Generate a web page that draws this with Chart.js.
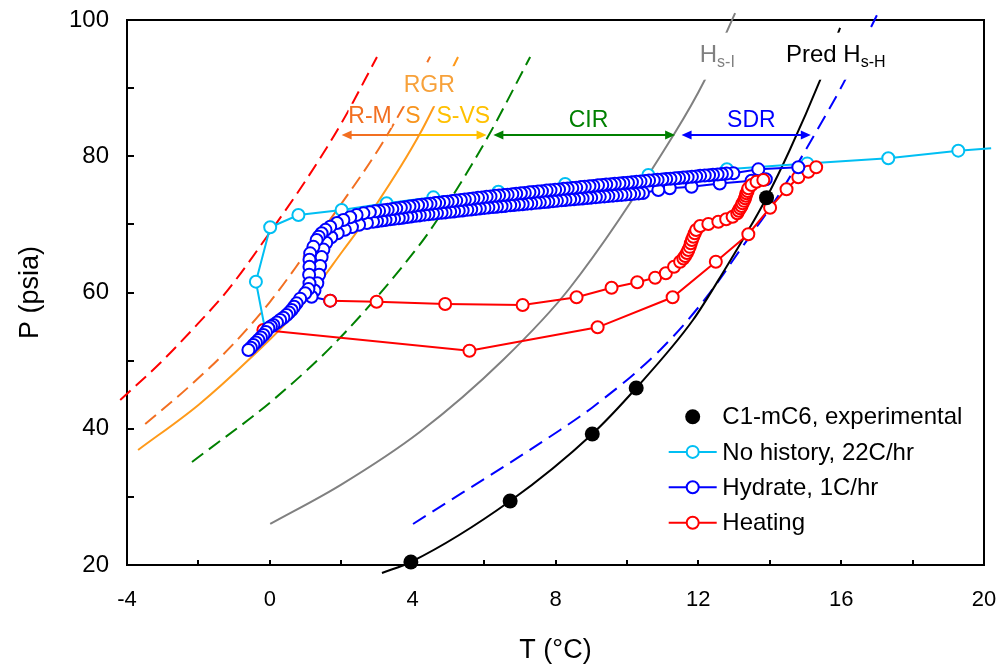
<!DOCTYPE html>
<html>
<head>
<meta charset="utf-8">
<title>Hydrate P–T paths, C1-mC6</title>
<script src="https://cdn.jsdelivr.net/npm/chart.js@4.4.1/dist/chart.umd.min.js"></script>
<style>
  html, body { margin: 0; padding: 0; background: #fff; }
  #wrap { width: 1003px; height: 668px; }
</style>
</head>
<body>
<div id="wrap"><canvas id="c" width="1003" height="668"></canvas></div>
<script>
const FONT = "'Liberation Sans', Arial, Helvetica, sans-serif";

// ---- axis ranges and tick steps ----
const tRange = [-4, 20];
const pRange = [20, 100];
const tStep = 2, tLabelStep = 4;
const pStep = 10, pLabelStep = 20;

// ---- C1-mC6 measured equilibrium points [T °C, P psia] ----
const experimental = [[3.95, 20.44], [6.73, 29.39], [9.03, 39.23], [10.26, 45.98], [13.91, 73.92]];

// ---- No history, 22C/hr ----
const noHistory = [
  [-0.13, 54.50], [-0.39, 61.59], [0.01, 69.57], [0.80, 71.38], [2.01, 72.11], [3.27, 73.09],
  [4.58, 73.97], [6.40, 74.80], [8.27, 75.93], [10.60, 77.25], [12.80, 78.10], [15.05, 78.95],
  [17.32, 79.70], [19.28, 80.82], [20.20, 81.17]
];

// ---- Hydrate, 1C/hr : upper trace, then the drop down to -0.6 °C ----
const hydrateUpper = [
  [14.80, 78.38], [13.68, 78.08], [12.98, 77.50],
  [12.79, 77.45], [12.66, 77.40], [12.54, 77.33], [12.41, 77.29], [12.30, 77.21], [12.18, 77.17],
  [12.05, 77.12], [11.94, 77.04], [11.82, 77.00], [11.70, 76.93], [11.58, 76.89], [11.46, 76.81],
  [11.35, 76.78], [11.22, 76.70], [11.10, 76.66], [10.99, 76.59], [10.86, 76.55], [10.75, 76.47],
  [10.62, 76.43], [10.51, 76.35], [10.38, 76.31], [10.27, 76.24], [10.14, 76.20], [10.03, 76.12],
  [9.90, 76.08], [9.79, 76.00], [9.66, 75.96], [9.55, 75.89], [9.42, 75.85], [9.31, 75.77],
  [9.19, 75.73], [9.06, 75.64], [8.95, 75.60], [8.82, 75.52], [8.71, 75.47], [8.58, 75.39],
  [8.47, 75.34], [8.34, 75.26], [8.23, 75.22], [8.10, 75.13], [7.99, 75.09], [7.86, 75.00],
  [7.75, 74.96], [7.62, 74.88], [7.51, 74.83], [7.38, 74.75], [7.27, 74.70], [7.14, 74.62],
  [7.03, 74.57], [6.90, 74.49], [6.79, 74.44], [6.66, 74.36], [6.55, 74.31], [6.42, 74.23],
  [6.31, 74.19], [6.18, 74.10], [6.07, 74.05], [5.94, 73.95], [5.83, 73.89], [5.70, 73.80],
  [5.59, 73.74], [5.46, 73.64], [5.35, 73.58], [5.22, 73.49], [5.11, 73.43], [4.98, 73.33],
  [4.87, 73.28], [4.74, 73.18], [4.63, 73.12], [4.50, 73.02], [4.39, 72.97], [4.26, 72.87],
  [4.15, 72.80], [4.02, 72.69], [3.91, 72.62], [3.78, 72.51], [3.67, 72.44], [3.54, 72.33],
  [3.43, 72.26], [3.30, 72.15], [3.19, 72.09], [3.06, 71.98], [2.95, 71.91],
  [2.80, 71.78], [2.62, 71.62], [2.43, 71.38], [2.25, 71.05], [2.06, 70.64], [1.88, 70.20],
  [1.69, 69.66], [1.56, 69.20], [1.45, 68.69], [1.37, 68.20], [1.31, 67.71], [1.22, 66.70],
  [1.13, 65.75], [1.11, 64.80], [1.11, 63.79], [1.10, 62.60], [1.11, 61.35], [1.08, 60.50],
  [0.99, 59.88], [0.85, 59.10], [0.75, 58.41], [0.68, 57.90], [0.61, 57.43], [0.54, 57.05],
  [0.47, 56.70], [0.38, 56.30], [0.29, 55.96], [0.20, 55.60], [0.10, 55.23], [0.03, 55.00],
  [-0.04, 54.75], [-0.11, 54.20], [-0.18, 53.76], [-0.25, 53.40], [-0.32, 53.03], [-0.39, 52.65],
  [-0.46, 52.29], [-0.53, 51.90], [-0.60, 51.56]
];

// ---- Hydrate, 1C/hr : lower trace ending where heating starts ----
const hydrateLower = [
  [13.89, 76.62], [13.49, 76.41], [12.60, 76.00], [11.81, 75.53], [11.20, 75.30], [10.88, 75.05],
  [10.45, 74.60], [10.33, 74.55], [10.20, 74.48], [10.09, 74.44], [9.96, 74.37], [9.85, 74.33],
  [9.72, 74.26], [9.61, 74.22], [9.48, 74.15], [9.37, 74.11], [9.24, 74.04], [9.13, 74.00],
  [9.00, 73.92], [8.89, 73.88], [8.76, 73.80], [8.65, 73.76], [8.52, 73.69], [8.41, 73.65],
  [8.28, 73.57], [8.17, 73.53], [8.04, 73.45], [7.93, 73.41], [7.80, 73.33], [7.69, 73.29],
  [7.56, 73.20], [7.45, 73.16], [7.32, 73.08], [7.21, 73.04], [7.08, 72.96], [6.97, 72.92],
  [6.84, 72.84], [6.73, 72.80], [6.60, 72.71], [6.49, 72.67], [6.36, 72.59], [6.25, 72.55],
  [6.12, 72.47], [6.01, 72.42], [5.88, 72.32], [5.77, 72.27], [5.64, 72.18], [5.53, 72.13],
  [5.40, 72.04], [5.29, 71.99], [5.16, 71.90], [5.05, 71.85], [4.92, 71.76], [4.81, 71.71],
  [4.68, 71.62], [4.57, 71.57], [4.44, 71.48], [4.33, 71.43], [4.20, 71.32], [4.09, 71.26],
  [3.96, 71.15], [3.85, 71.08], [3.72, 70.98], [3.61, 70.91], [3.48, 70.81], [3.37, 70.74],
  [3.24, 70.63], [3.13, 70.57], [3.00, 70.46], [2.89, 70.39],
  [2.72, 70.20], [2.50, 69.95], [2.30, 69.60], [2.10, 69.20], [1.90, 68.70], [1.72, 68.10],
  [1.58, 67.30], [1.50, 66.30], [1.45, 65.20], [1.41, 63.89], [1.38, 62.60], [1.33, 61.35],
  [1.25, 60.30], [1.17, 59.38], [1.69, 58.80]
];

// ---- Heating runs ----
const heatingFromHydrate = [
  [1.69, 58.80], [2.99, 58.65], [4.91, 58.31], [7.08, 58.17], [8.59, 59.30], [9.57, 60.70],
  [10.29, 61.50], [10.79, 62.17], [11.09, 62.82], [11.32, 63.79], [11.49, 64.52], [11.58, 65.00],
  [11.63, 65.36], [11.68, 65.80], [11.72, 66.24], [11.76, 66.70], [11.79, 67.22], [11.82, 67.70],
  [11.86, 68.19], [11.90, 68.70], [11.94, 69.17], [12.05, 69.76], [12.28, 70.06], [12.56, 70.39],
  [12.78, 70.75], [12.96, 71.13], [13.09, 71.63], [13.13, 72.00], [13.17, 72.36], [13.21, 72.70],
  [13.24, 73.09], [13.28, 73.45], [13.31, 73.83], [13.33, 74.20], [13.35, 74.56], [13.38, 74.90],
  [13.40, 75.29], [13.49, 75.78], [13.63, 76.26], [13.82, 76.51]
];
const heatingFromCold = [
  [-0.18, 54.50], [5.59, 51.46], [9.18, 54.89], [11.28, 59.30], [12.49, 64.52], [13.40, 68.55],
  [14.01, 72.45], [14.47, 75.15], [14.80, 76.91], [15.08, 77.73], [15.30, 78.38]
];

// ---- Region boundary curves ----
const rmBoundary   = [[-4.19, 44.22], [-3.07, 49.65], [-2.00, 55.50], [-1.20, 60.20], [0.00, 68.80],
                      [1.00, 76.40], [2.01, 84.90], [3.00, 94.57]];
const sBoundary    = [[-3.49, 40.70], [-2.30, 46.00], [-1.12, 51.90], [0.00, 58.60], [0.96, 65.40],
                      [2.00, 73.00], [3.04, 81.00], [3.80, 87.80], [4.49, 94.62]];
const vsBoundary   = [[-3.69, 36.88], [-2.00, 43.50], [-0.60, 50.09], [0.80, 57.50], [2.06, 66.24],
                      [2.99, 73.00], [4.21, 83.37], [5.27, 94.57]];
const cirBoundary  = [[-2.18, 35.12], [0.09, 44.22], [1.96, 53.32], [4.12, 66.50], [4.68, 70.60],
                      [6.08, 82.60], [7.29, 94.57]];
const hsiCurve     = [[0.01, 26.02], [2.00, 31.80], [4.20, 39.52], [6.53, 50.09], [8.40, 60.66],
                      [11.34, 83.41], [12.18, 91.19], [13.03, 101.0]];
const predHshCurve = [[3.14, 18.83], [3.95, 20.44], [6.73, 29.39], [9.03, 39.23], [10.26, 45.98], [11.85, 55.96],
                      [12.79, 63.79], [13.35, 68.69], [13.91, 73.92], [14.56, 80.92], [15.41, 91.19], [15.97, 98.83]];
const sdrBoundary  = [[4.01, 26.02], [8.13, 39.82], [9.06, 43.24], [10.93, 51.56], [12.24, 59.38], [13.17, 66.24],
                      [14.25, 74.30], [15.22, 82.87], [16.06, 90.70], [17.00, 100.7]];

// ---- Legend entries ----
const legendNames = ['C1-mC6, experimental', 'No history, 22C/hr', 'Hydrate, 1C/hr', 'Heating'];

const COL = {
  red: '#FF0000', cyan: '#00BFF3', blue: '#0000FF', black: '#000000',
  rm: '#F26F21', s: '#F7941D', vs: '#FFC000', rgr: '#F7A13A',
  green: '#008000', gray: '#808080'
};

const xy = pairs => pairs.map(([x, y]) => ({ x, y }));
const curveClip = { left: 10, top: 8, right: 10, bottom: 12 };

function curve(pairs, color, dash) {
  return {
    data: xy(pairs), showLine: true, borderColor: color, borderWidth: 2,
    borderDash: dash || [], pointRadius: 0, pointHoverRadius: 0,
    cubicInterpolationMode: 'monotone', clip: curveClip, order: 20
  };
}
function series(pairs, color, order, extra) {
  return Object.assign({
    data: xy(pairs), showLine: true, borderColor: color, borderWidth: 2,
    pointStyle: 'circle', pointRadius: 6, pointBorderWidth: 2,
    pointBorderColor: color, pointBackgroundColor: '#ffffff', order
  }, extra || {});
}

// higher order = drawn earlier (further back)
const datasets = [
  curve(rmBoundary, COL.red, [14, 7]),
  curve(sBoundary, COL.rm, [14, 7]),
  curve(vsBoundary, '#FF9A1A'),
  curve(cirBoundary, COL.green, [14, 7]),
  curve(hsiCurve, COL.gray),
  curve(predHshCurve, COL.black),
  curve(sdrBoundary, COL.blue, [15, 8]),
  series(noHistory, COL.cyan, 6, {
    clip: { left: 0, top: 0, right: 8, bottom: 0 },
    pointRadius: noHistory.map((p, i) => i === noHistory.length - 1 ? 0 : 6)
  }),
  series(heatingFromCold, COL.red, 5),
  series(hydrateUpper, COL.blue, 4),
  series(hydrateLower, COL.blue, 4),
  series(heatingFromHydrate, COL.red, 3),
  {
    data: xy(experimental), showLine: false, pointStyle: 'circle', pointRadius: 7.5,
    pointBorderWidth: 0, pointBackgroundColor: '#000', pointBorderColor: '#000', order: 1, clip: false
  }
];

// ---- text labels placed in data coordinates ----
const regionLabels = [
  { text: 'RGR', t: 4.464, p: 90.58, color: COL.rgr, box: [29, 18, 29, 22] },
  { text: 'R-M', t: 2.806, p: 85.94, color: COL.rm, box: [21.5, 12, 21.5, 12] },
  { text: 'S', t: 4.010, p: 85.94, color: COL.s, box: [7.5, 12, 7.5, 12] },
  { text: 'S-VS', t: 5.419, p: 85.94, color: COL.vs, box: [27.5, 12, 27.5, 12] },
  { text: 'CIR', t: 8.925, p: 85.44, color: COL.green },
  { text: 'SDR', t: 13.484, p: 85.44, color: COL.blue }
];
const curveLabels = [
  { main: 'H', sub: 's-I', t: 12.04, p: 93.88, color: COL.gray, box: [3, 29, 40, 18] },
  { main: 'Pred H', sub: 's-H', t: 14.455, p: 93.88, color: COL.black, box: [3, 29, 102, 18] }
];
const arrowP = 83.12;
const arrows = [
  { from: 2.01, to: 6.07, segs: [[2.01, 3.30, COL.rm], [3.30, 4.20, COL.s], [4.20, 6.07, COL.vs]], headL: COL.rm, headR: COL.vs },
  { from: 6.26, to: 11.35, segs: [[6.26, 11.35, COL.green]], headL: COL.green, headR: COL.green },
  { from: 11.53, to: 15.15, segs: [[11.53, 15.15, COL.blue]], headL: COL.blue, headR: COL.blue }
];

function head(ctx, x, y, dir, color) {
  ctx.fillStyle = color;
  ctx.beginPath();
  ctx.moveTo(x, y);
  ctx.lineTo(x - dir * 10, y - 4.5);
  ctx.lineTo(x - dir * 10, y + 4.5);
  ctx.closePath();
  ctx.fill();
}

const frame = {
  id: 'frame',
  beforeDatasetsDraw(chart) {
    const { ctx, chartArea: a, scales: { x, y } } = chart;
    ctx.save();
    ctx.strokeStyle = '#000';
    ctx.lineWidth = 2;
    ctx.beginPath();
    x.ticks.forEach(tk => {
      const px = Math.round(x.getPixelForValue(tk.value));
      ctx.moveTo(px, a.bottom); ctx.lineTo(px, a.bottom - 5);
    });
    y.ticks.forEach(tk => {
      const py = Math.round(y.getPixelForValue(tk.value));
      ctx.moveTo(a.left, py); ctx.lineTo(a.left + 7, py);
    });
    ctx.stroke();
    ctx.strokeRect(a.left, a.top, a.right - a.left, a.bottom - a.top);
    ctx.restore();
  }
};

const annotations = {
  id: 'annotations',
  afterDatasetsDraw(chart) {
    const { ctx, scales: { x, y } } = chart;
    ctx.save();
    // region names
    ctx.font = `23px ${FONT}`;
    ctx.textAlign = 'center';
    ctx.textBaseline = 'middle';
    regionLabels.forEach(l => {
      const cx = x.getPixelForValue(l.t), cy = y.getPixelForValue(l.p);
      if (l.box) {
        ctx.fillStyle = '#fff';
        ctx.fillRect(cx - l.box[0], cy - l.box[1], l.box[0] + l.box[2], l.box[1] + l.box[3]);
      }
      ctx.fillStyle = l.color;
      ctx.fillText(l.text, cx, cy + 1);
    });
    // curve names with subscripts
    ctx.textAlign = 'left';
    ctx.textBaseline = 'alphabetic';
    curveLabels.forEach(l => {
      const lx = x.getPixelForValue(l.t), by = y.getPixelForValue(l.p);
      ctx.fillStyle = '#fff';
      ctx.fillRect(lx - l.box[0], by - l.box[1], l.box[0] + l.box[2], l.box[1] + l.box[3]);
      ctx.fillStyle = l.color;
      ctx.font = `24px ${FONT}`;
      ctx.fillText(l.main, lx, by);
      const w = ctx.measureText(l.main).width;
      ctx.font = `16px ${FONT}`;
      ctx.fillText(l.sub, lx + w, by + 5);
    });
    // range arrows
    const ay = Math.round(y.getPixelForValue(arrowP));
    ctx.lineWidth = 2.2;
    arrows.forEach(a => {
      const x1 = x.getPixelForValue(a.from), x2 = x.getPixelForValue(a.to);
      a.segs.forEach(([s, e, c]) => {
        let sx = x.getPixelForValue(s), ex = x.getPixelForValue(e);
        if (s === a.from) sx += 6;
        if (e === a.to) ex -= 6;
        ctx.strokeStyle = c;
        ctx.beginPath(); ctx.moveTo(sx, ay); ctx.lineTo(ex, ay); ctx.stroke();
      });
      head(ctx, x1, ay, -1, a.headL);
      head(ctx, x2, ay, 1, a.headR);
    });
    ctx.restore();
  }
};

const legendBox = {
  id: 'legendBox',
  afterDraw(chart) {
    const { ctx, chartArea: a } = chart;
    const cx = a.right - 291.3, tx = a.right - 261.7;
    const rows = [148.3, 113.1, 77.7, 42.3].map(d => a.bottom - d);
    const colors = [null, COL.cyan, COL.blue, COL.red];
    ctx.save();
    ctx.font = `24px ${FONT}`;
    ctx.textBaseline = 'middle';
    ctx.textAlign = 'left';
    rows.forEach((ry, i) => {
      if (i === 0) {
        ctx.fillStyle = '#000';
        ctx.beginPath(); ctx.arc(cx, ry, 7.5, 0, Math.PI * 2); ctx.fill();
      } else {
        ctx.strokeStyle = colors[i];
        ctx.lineWidth = 2;
        ctx.beginPath(); ctx.moveTo(cx - 24, ry); ctx.lineTo(cx + 24, ry); ctx.stroke();
        ctx.fillStyle = '#fff';
        ctx.beginPath(); ctx.arc(cx, ry, 6, 0, Math.PI * 2); ctx.fill(); ctx.stroke();
      }
      ctx.fillStyle = '#000';
      ctx.fillText(legendNames[i], tx, ry + 1);
    });
    ctx.restore();
  }
};

new Chart(document.getElementById('c'), {
  type: 'scatter',
  data: { datasets },
  options: {
    responsive: false,
    animation: false,
    devicePixelRatio: 1,
    layout: { padding: { top: 20, right: 19, left: 0, bottom: 0 } },
    plugins: { legend: { display: false }, tooltip: { enabled: false } },
    scales: {
      x: {
        type: 'linear', min: tRange[0], max: tRange[1],
        grid: { display: false, drawTicks: false }, border: { display: false },
        ticks: {
          stepSize: tStep, padding: 22, color: '#000', autoSkip: false, maxRotation: 0,
          font: { family: FONT, size: 22 },
          callback: v => (Math.abs(v % tLabelStep) < 1e-9 ? String(v) : '')
        },
        title: { display: true, text: 'T (°C)', color: '#000', font: { family: FONT, size: 27 }, padding: { top: 0, bottom: 1 } },
        afterFit(s) { s.height = 103; s.paddingLeft = 0; s.paddingRight = 0; }
      },
      y: {
        type: 'linear', min: pRange[0], max: pRange[1],
        grid: { display: false, drawTicks: false }, border: { display: false },
        ticks: {
          stepSize: pStep, padding: 18, color: '#000', autoSkip: false,
          font: { family: FONT, size: 24 },
          callback: v => (Math.abs(v % pLabelStep) < 1e-9 ? String(v) : '')
        },
        title: { display: true, text: 'P (psia)', color: '#000', font: { family: FONT, size: 27 }, padding: { top: 14, bottom: 0 } },
        afterFit(s) { s.width = 127; s.paddingTop = 0; s.paddingBottom = 0; }
      }
    }
  },
  plugins: [frame, annotations, legendBox]
});
</script>
</body>
</html>
